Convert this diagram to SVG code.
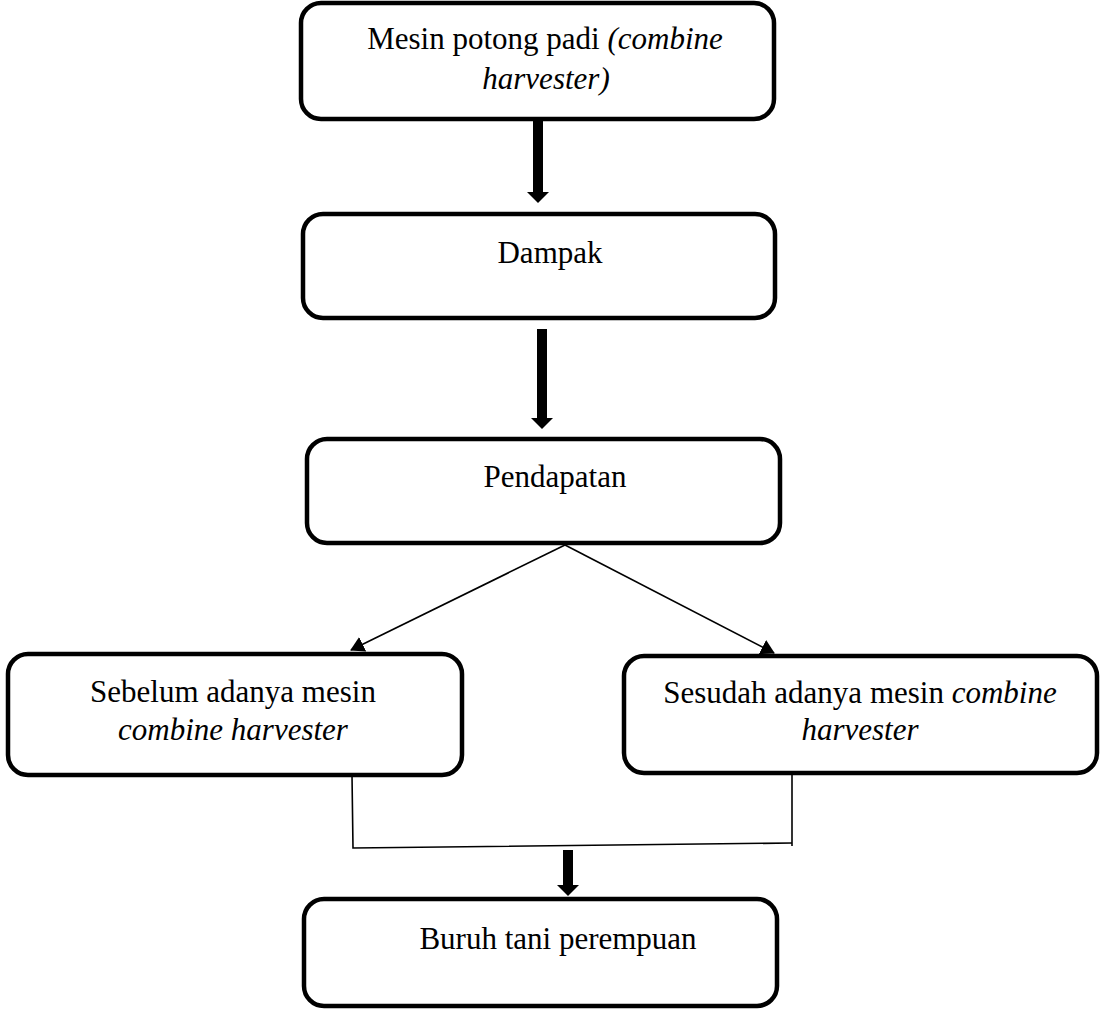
<svg xmlns="http://www.w3.org/2000/svg" width="1100" height="1010" viewBox="0 0 1100 1010">
<style>
.box{fill:#fff;stroke:#000;stroke-width:4.5}
.t{font-family:"Liberation Serif","Times New Roman",serif;font-size:31px;fill:#000}
.i{font-style:italic}
.thick{stroke:#000;stroke-width:10;fill:none}
.thin{stroke:#000;stroke-width:1.6;fill:none}
</style>
<defs>
<marker id="bigHead" markerUnits="userSpaceOnUse" markerWidth="12" markerHeight="24" viewBox="0 0 12 24" refX="0" refY="12" orient="auto">
<path d="M0,1 L11,12 L0,23 z" fill="#000"/>
</marker>
<marker id="smallHead" markerUnits="userSpaceOnUse" markerWidth="14" markerHeight="18" viewBox="0 0 14 18" refX="13" refY="9" orient="auto">
<path d="M0,1 L14,9 L0,17 z" fill="#000"/>
</marker>
</defs>
<rect width="1100" height="1010" fill="#fff"/>
<g id="connectors">
<line class="thick" x1="538" y1="113" x2="538" y2="192" marker-end="url(#bigHead)"/>
<line class="thick" x1="542" y1="329" x2="542" y2="418" marker-end="url(#bigHead)"/>
<line class="thin" x1="565" y1="545" x2="351" y2="650" marker-end="url(#smallHead)"/>
<line class="thin" x1="565" y1="545" x2="774" y2="653" marker-end="url(#smallHead)"/>
<polyline class="thin" points="352,775 353,848 792,843"/>
<line class="thin" x1="792" y1="770" x2="792" y2="846"/>
<line class="thick" x1="568" y1="850" x2="568" y2="885" marker-end="url(#bigHead)"/>
</g>
<g id="node-mesin">
<rect class="box" x="301" y="3" width="473" height="116" rx="20"/>
<text class="t" x="545" y="49" text-anchor="middle">Mesin potong padi <tspan class="i">(combine</tspan></text>
<text class="t i" x="546" y="89" text-anchor="middle">harvester)</text>
</g>
<g id="node-dampak">
<rect class="box" x="303" y="214" width="472" height="104" rx="20"/>
<text class="t" x="550" y="263" text-anchor="middle">Dampak</text>
</g>
<g id="node-pendapatan">
<rect class="box" x="307" y="439" width="473" height="104" rx="20"/>
<text class="t" x="555" y="487" text-anchor="middle">Pendapatan</text>
</g>
<g id="node-sebelum">
<rect class="box" x="8" y="654" width="454" height="121" rx="20"/>
<text class="t" x="233" y="702" text-anchor="middle">Sebelum adanya mesin</text>
<text class="t i" x="233" y="740" text-anchor="middle">combine harvester</text>
</g>
<g id="node-sesudah">
<rect class="box" x="624" y="656" width="473" height="117" rx="20"/>
<text class="t" x="860" y="703" text-anchor="middle">Sesudah adanya mesin <tspan class="i">combine</tspan></text>
<text class="t i" x="860" y="740" text-anchor="middle">harvester</text>
</g>
<g id="node-buruh">
<rect class="box" x="304" y="899" width="473" height="107" rx="20"/>
<text class="t" x="558" y="949" text-anchor="middle">Buruh tani perempuan</text>
</g>
</svg>
